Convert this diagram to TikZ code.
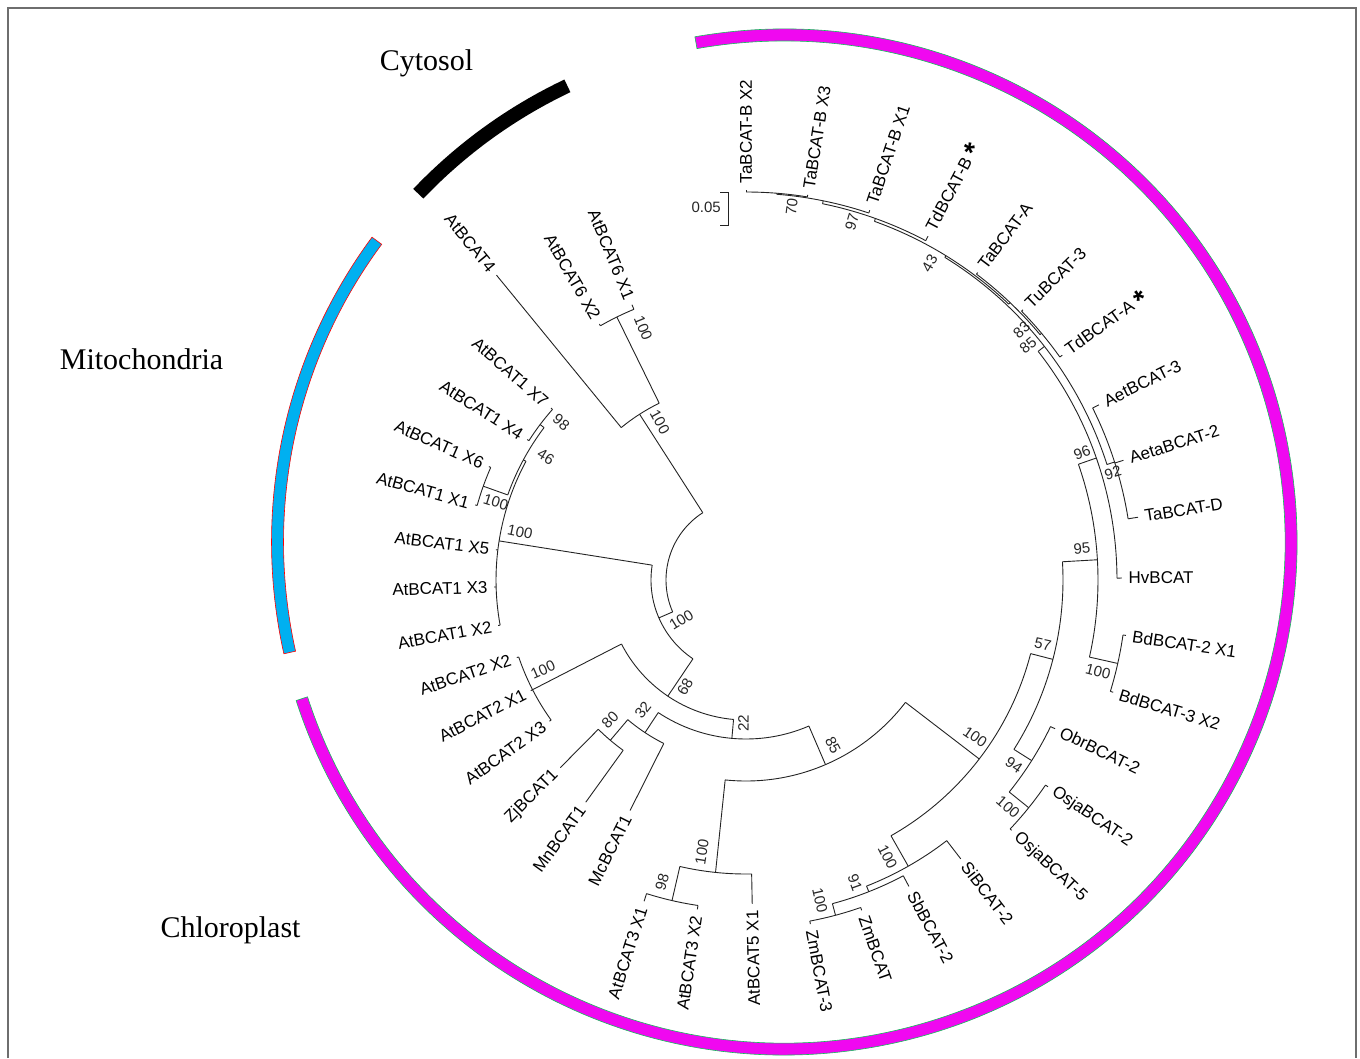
\documentclass[tikz,border=0pt]{standalone}
\usepackage{fontspec}
\setmainfont{Liberation Sans}
\newfontfamily\regionfont{Liberation Serif}
\usetikzlibrary{calc}
\definecolor{bandmag}{RGB}{240,8,240}
\definecolor{bandblue}{RGB}{0,176,240}
\definecolor{bandgreen}{RGB}{20,190,90}
\definecolor{treegray}{RGB}{35,35,35}
\definecolor{framegray}{RGB}{110,110,110}
\tikzset{
  br/.style={draw=treegray, line width=0.9pt},
  leaf/.style={font=\fontsize{17}{17}\selectfont, inner sep=1.5pt, text=black},
  bst/.style={font=\fontsize{15}{15}\selectfont, inner sep=0pt, text=black!85},
  region/.style={font=\regionfont\fontsize{30}{30}\selectfont, anchor=base, inner sep=0pt},
}
\newcommand\treearc[3]{\draw[br] (#1:#3) arc[start angle=#1, end angle=#2, radius=#3pt];}
\newcommand\treestem[4]{\coordinate (#1-base) at (#2:#3); \coordinate (#1) at (#2:#4); \draw[br] (#1-base) -- (#1);}
\newcommand\leafR[4]{\pgfmathsetmacro\myrr{#3+5}\node[leaf, anchor=west, rotate=#2] (#1-lab) at (#2:\myrr) {#4};}
\newcommand\leafL[4]{\pgfmathsetmacro\myrr{#3+5}\node[leaf, anchor=east, rotate=#2-180] (#1-lab) at (#2:\myrr) {#4};}
\newcommand\bootR[4]{\node[bst, rotate=#2] (#1) at (#2:#3) {#4};}
\newcommand\bootL[4]{\node[bst, rotate=#2-180] (#1) at (#2:#3) {#4};}
\newcommand\astmark{\ \raisebox{-5pt}{\fontsize{28}{28}\selectfont\bfseries *}}
\begin{document}
\begin{tikzpicture}[x=1pt,y=1pt]
\useasboundingbox (0,0) rectangle (1360,-1058);
% frame
\coordinate (f1) at (8,-1058); \coordinate (f2) at (8,-8); \coordinate (f3) at (1356,-8); \coordinate (f4) at (1356,-1058);
\draw[framegray, line width=1.4pt] (f1) -- (f2) -- (f3) -- (f4);

% region bands
\begin{scope}[shift={(784,-542)}]
  \fill[bandmag, draw=bandgreen, line width=0.6pt] (100:513) arc[start angle=100, end angle=-162, radius=513pt] -- (-162:501) arc[start angle=-162, end angle=100, radius=501pt] -- cycle;
  \fill[bandblue, draw=red, line width=0.6pt] (143.5:512.5) arc[start angle=143.5, end angle=192.6, radius=512.5pt] -- (192.6:500.5) arc[start angle=192.6, end angle=143.5, radius=500.5pt] -- cycle;
  \fill[black] (115.4:512) arc[start angle=115.4, end angle=136.4, radius=512pt] -- (136.4:498) arc[start angle=136.4, end angle=115.4, radius=498pt] -- cycle;
\end{scope}

\node[region] (cyto) at (426.5,-70) {Cytosol};
\node[region] (mito) at (141.5,-369) {Mitochondria};
\node[region] (chloro) at (230.5,-937) {Chloroplast};

% scale bar
\coordinate (sb1) at (720,-192); \coordinate (sb2) at (728,-192); \coordinate (sb3) at (728,-225); \coordinate (sb4) at (720,-225);
\draw[br] (sb1) -- (sb2) -- (sb3) -- (sb4);
\node[bst, anchor=east, inner sep=0pt] (sblab) at (721,-207) {0.05};

\begin{scope}[shift={(746,-580)}]
% root
\treearc{122.7}{203.5}{80}
\treestem{n100d}{122.7}{80}{197}
\treestem{n100b}{203.5}{80}{95}
% cytosol
\treearc{116.15}{129.3}{197}
\treestem{At4}{129.3}{197}{394}
\treestem{n100e}{116.15}{197}{293}
\treearc{112.5}{119.8}{293}
\treestem{At6X2}{119.8}{293}{295}
\treestem{At6X1}{112.5}{293}{298}
% n100b
\treearc{171.0}{236.05}{95}
\treestem{At1}{171.0}{95}{250}
\treestem{n68}{236.05}{95}{140}
% AtBCAT1
\treearc{151.65}{190.4}{250}
\treestem{At1X2}{190.4}{250}{252}
\treestem{At1X3}{181.6}{250}{252}
\treestem{At1X5}{173.1}{250}{252}
\treestem{n46}{151.65}{250}{253}
\treearc{142.95}{160.35}{253}
\treestem{n100c}{160.35}{253}{279}
\treestem{n98}{142.95}{253}{258}
\treearc{156.2}{164.5}{279}
\treestem{At1X1}{164.5}{279}{281}
\treestem{At1X6}{156.2}{279}{281}
\treearc{138.6}{147.3}{258}
\treestem{At1X4}{147.3}{258}{260}
\treestem{At1X7}{138.6}{258}{260}
% n68
\treearc{207.2}{264.9}{140}
\treestem{At2}{207.2}{140}{240}
\treestem{n22}{264.9}{140}{159}
\treearc{198.7}{215.7}{240}
\treestem{At2X2}{198.7}{240}{242}
\treestem{At2X1}{207.2}{240}{242}
\treestem{At2X3}{215.7}{240}{242}
% n22
\treearc{236.5}{293.3}{159}
\treestem{n32}{236.5}{159}{183}
\treestem{n85}{293.3}{159}{201}
\treearc{229.75}{243.3}{183}
\treestem{n80}{229.75}{183}{210}
\treestem{Mc}{243.3}{183}{258}
\treearc{225.3}{234.2}{210}
\treestem{Zj}{225.3}{210}{264}
\treestem{Mn}{234.2}{210}{274}
% n85
\treearc{264.05}{322.5}{201}
\treestem{n100f}{264.05}{201}{294}
\treestem{n100g}{322.5}{201}{294}
\treearc{257}{271.1}{294}
\treestem{n98b}{257}{294}{329}
\treestem{At5X1}{271.1}{294}{324}
\treearc{252.4}{261.6}{329}
\treestem{At3X1}{252.4}{329}{337}
\treestem{At3X2}{261.6}{329}{333}
% monocots
\treearc{299.55}{345.5}{294}
\treestem{n100h}{299.55}{294}{329}
\treestem{n57}{345.5}{294}{317}
\treearc{291.5}{307.6}{329}
\treestem{n91}{291.5}{329}{335}
\treestem{Si}{307.6}{329}{352}
\treearc{284.95}{298}{335}
\treestem{n100i}{284.95}{335}{347}
\treestem{Sb}{298}{335}{347}
\treearc{280.6}{289.3}{347}
\treestem{Zm3}{280.6}{347}{350}
\treestem{Zm}{289.3}{347}{350}
\treearc{327.7}{363.3}{317}
\treestem{n94}{327.7}{317}{338}
\treestem{n95}{363.3}{317}{352}
\treearc{321.15}{334.3}{338}
\treestem{n100j}{321.15}{338}{363}
\treestem{Obr}{334.3}{338}{343}
\treearc{316.7}{325.6}{363}
\treestem{Osja5}{316.7}{363}{365}
\treestem{Osja2}{325.6}{363}{366}
\treearc{347.35}{379.2}{352}
\treestem{n100k}{347.35}{352}{381}
\treestem{n96}{379.2}{352}{371}
\treearc{343}{351.7}{381}
\treestem{Bd3}{343}{381}{384}
\treestem{Bd2}{351.7}{381}{384}
\treearc{0.3}{38.05}{371}
\treestem{Hv}{0.3}{371}{376}
\treestem{n85w}{38.05}{371}{379}
\treearc{17.75}{58.35}{379}
\treestem{n92}{17.75}{379}{387}
\treestem{n43}{58.35}{379}{381}
\treearc{9.1}{26.4}{387}
\treestem{TaD}{9.1}{387}{397}
\treestem{Aeta2}{17.6}{387}{396}
\treestem{Aet3}{26.4}{387}{394}
\treearc{46.4}{70.3}{381}
\treestem{nA}{46.4}{381}{383}
\treestem{n97}{70.3}{381}{384}
\treearc{39.85}{53}{383}
\treestem{n83}{39.85}{383}{385}
\treestem{TaA}{53}{383}{385}
\treearc{35.4}{44.3}{385}
\treestem{TdA}{35.4}{385}{388}
\treestem{Tu3}{44.3}{385}{387}
\treearc{62.1}{78.5}{384}
\treestem{TdB}{62.1}{384}{389}
\treestem{nx}{78.5}{384}{387}
\treearc{71.5}{85.45}{387}
\treestem{TaBX1}{71.5}{387}{390}
\treestem{n70}{85.45}{387}{388}
\treearc{80.9}{90}{388}
\treestem{TaBX3}{80.9}{388}{390}
\treestem{TaBX2}{90}{388}{390}

% leaf labels, right half
\leafR{TaBX2}{90}{390}{TaBCAT-B X2}
\leafR{TaBX3}{80.9}{390}{TaBCAT-B X3}
\leafR{TaBX1}{71.5}{390}{TaBCAT-B X1}
\leafR{TdB}{62.1}{389}{TdBCAT-B\astmark}
\leafR{TaA}{53}{385}{TaBCAT-A}
\leafR{Tu3}{44.3}{387}{TuBCAT-3}
\leafR{TdA}{35.4}{388}{TdBCAT-A\astmark}
\leafR{Aet3}{26.4}{394}{AetBCAT-3}
\leafR{Aeta2}{17.6}{396}{AetaBCAT-2}
\leafR{TaD}{9.1}{397}{TaBCAT-D}
\leafR{Hv}{0.3}{376}{HvBCAT}
\leafR{Bd2}{-8.3}{384}{BdBCAT-2 X1}
\leafR{Bd3}{-17}{384}{BdBCAT-3 X2}
\leafR{Obr}{-25.7}{343}{ObrBCAT-2}
\leafR{Osja2}{-34.4}{366}{OsjaBCAT-2}
\leafR{Osja5}{-43.3}{365}{OsjaBCAT-5}
\leafR{Si}{-52.4}{352}{SiBCAT-2}
\leafR{Sb}{-62}{347}{SbBCAT-2}
\leafR{Zm}{-70.7}{350}{ZmBCAT}
\leafR{Zm3}{-79.4}{350}{ZmBCAT-3}
% leaf labels, left half
\leafL{At5X1}{271.1}{324}{AtBCAT5 X1}
\leafL{At3X2}{261.6}{333}{AtBCAT3 X2}
\leafL{At3X1}{252.4}{337}{AtBCAT3 X1}
\leafL{Mc}{243.3}{258}{McBCAT1}
\leafL{Mn}{234.2}{274}{MnBCAT1}
\leafL{Zj}{225.3}{264}{ZjBCAT1}
\leafL{At2X3}{215.7}{242}{AtBCAT2 X3}
\leafL{At2X1}{207.2}{242}{AtBCAT2 X1}
\leafL{At2X2}{198.7}{242}{AtBCAT2 X2}
\leafL{At1X2}{190.4}{252}{AtBCAT1 X2}
\leafL{At1X3}{181.6}{252}{AtBCAT1 X3}
\leafL{At1X5}{173.1}{252}{AtBCAT1 X5}
\leafL{At1X1}{164.5}{281}{AtBCAT1 X1}
\leafL{At1X6}{156.2}{281}{AtBCAT1 X6}
\leafL{At1X4}{147.3}{260}{AtBCAT1 X4}
\leafL{At1X7}{138.6}{260}{AtBCAT1 X7}
\leafL{At4}{129.3}{394}{AtBCAT4}
\leafL{At6X2}{119.8}{295}{AtBCAT6 X2}
\leafL{At6X1}{112.5}{298}{AtBCAT6 X1}

% bootstrap values
\bootL{b100e}{112.2}{272}{100}
\bootL{b100d}{118.6}{180}{100}
\bootL{b98}{139.5}{243}{98}
\bootL{b46}{148.4}{235}{46}
\bootL{b100c}{162.7}{262}{100}
\bootL{b100at1}{168}{231}{100}
\bootL{b100b}{211.6}{76}{100}
\bootL{b100at2}{203.9}{222}{100}
\bootL{b68}{240.3}{123}{68}
\bootL{b32}{231.6}{166}{32}
\bootL{b80}{225.8}{195}{80}
\bootL{b22}{269}{143}{22}
\bootL{b100f}{260.8}{275.5}{100}
\bootL{b98b}{254.5}{314}{98}
\bootR{b85}{297.8}{186.5}{85}
\bootR{b100g}{325.6}{277.7}{100}
\bootR{b100h}{297.1}{311}{100}
\bootR{b91}{289.8}{322}{91}
\bootR{b100i}{283}{328.5}{100}
\bootR{b94}{325.4}{325.6}{94}
\bootR{b100j}{319.1}{346.7}{100}
\bootR{b57}{347.8}{303.8}{57}
\bootR{b100k}{345.4}{363.8}{100}
\bootR{b95}{5.4}{337.5}{95}
\bootR{b96}{20.7}{359.2}{96}
\bootR{b92}{16.3}{382.3}{92}
\bootR{b85w}{39.8}{367}{85}
\bootR{b83}{42.2}{372}{83}
\bootR{b43}{59.9}{366}{43}
\bootR{b97}{73.5}{373}{97}
\bootR{b70}{83}{376}{70}
\end{scope}
\end{tikzpicture}
\end{document}
